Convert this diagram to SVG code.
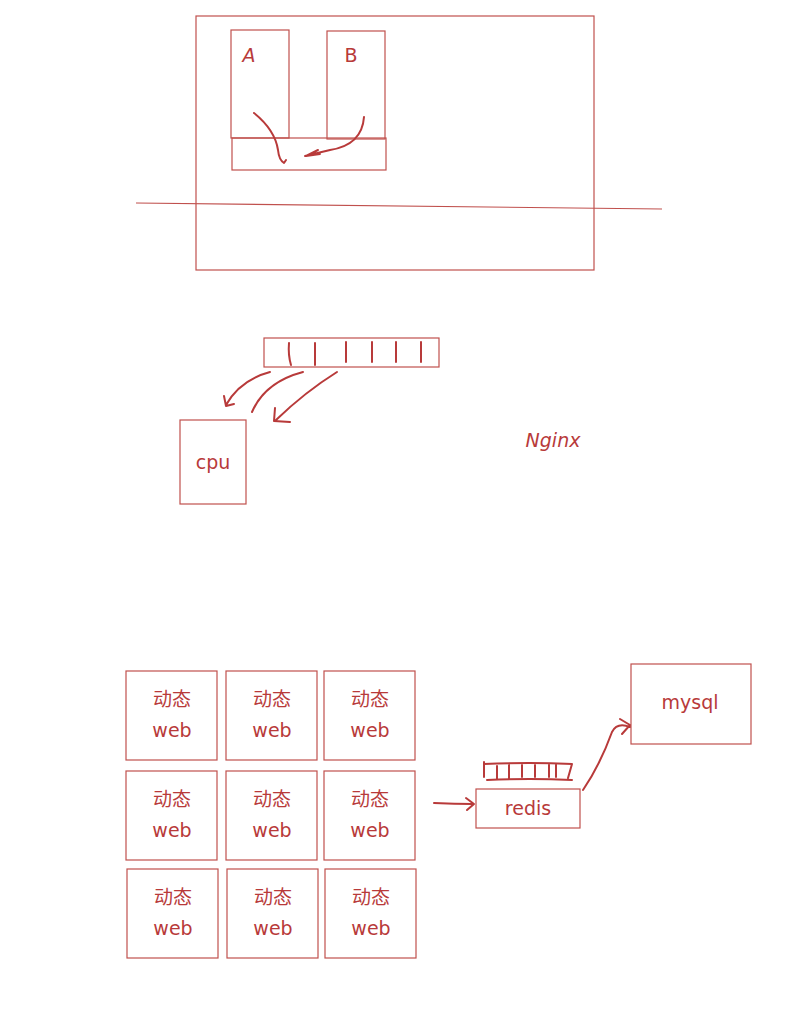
<svg xmlns="http://www.w3.org/2000/svg" width="811" height="1010" viewBox="0 0 811 1010">
<style>
.b{fill:none;stroke:#c0504d;stroke-width:1.2}
.a{fill:none;stroke:#b83a3a;stroke-width:2;stroke-linecap:round;stroke-linejoin:round}
.t{fill:#b83a3a;font-family:"Comic Sans MS","DejaVu Sans","Noto Sans CJK SC",sans-serif;font-size:19px;text-anchor:middle}
</style>
<rect width="811" height="1010" fill="#fff"/>
<g id="outer"><rect class="b" x="196" y="16" width="398" height="254"/></g>
<g id="A"><rect class="b" x="231" y="30" width="58" height="108"/><text class="t" x="249" y="62" font-style="italic">A</text></g>
<g id="B"><rect class="b" x="327" y="31" width="58" height="108"/><text class="t" x="351" y="62">B</text></g>
<g id="base"><rect class="b" x="232" y="138" width="154" height="32"/></g>
<g id="line"><path class="b" d="M136 203 L662 209"/></g>
<g id="queue"><rect class="b" x="264" y="338" width="175" height="29"/>
<path class="a" d="M289 343 Q288 355 291 365 M315 343 V365 M346 342 V362 M372 342 V362 M396 342 V362 M421 342 V362" stroke-width="1.6"/></g>
<g id="cpu"><rect class="b" x="180" y="420" width="66" height="84"/><text class="t" x="213" y="469">cpu</text></g>
<g id="nginx"><text class="t" x="553" y="447" font-size="17" font-style="italic">Nginx</text></g>
<g id="grid">
<g id="w1"><rect class="b" x="126" y="671" width="91" height="89"/><text class="t" x="172" y="706">动态</text><text class="t" x="172" y="737">web</text></g>
<g id="w2"><rect class="b" x="226" y="671" width="91" height="89"/><text class="t" x="272" y="706">动态</text><text class="t" x="272" y="737">web</text></g>
<g id="w3"><rect class="b" x="324" y="671" width="91" height="89"/><text class="t" x="370" y="706">动态</text><text class="t" x="370" y="737">web</text></g>
<g id="w4"><rect class="b" x="126" y="771" width="91" height="89"/><text class="t" x="172" y="806">动态</text><text class="t" x="172" y="837">web</text></g>
<g id="w5"><rect class="b" x="226" y="771" width="91" height="89"/><text class="t" x="272" y="806">动态</text><text class="t" x="272" y="837">web</text></g>
<g id="w6"><rect class="b" x="324" y="771" width="91" height="89"/><text class="t" x="370" y="806">动态</text><text class="t" x="370" y="837">web</text></g>
<g id="w7"><rect class="b" x="127" y="869" width="91" height="89"/><text class="t" x="173" y="904">动态</text><text class="t" x="173" y="935">web</text></g>
<g id="w8"><rect class="b" x="227" y="869" width="91" height="89"/><text class="t" x="273" y="904">动态</text><text class="t" x="273" y="935">web</text></g>
<g id="w9"><rect class="b" x="325" y="869" width="91" height="89"/><text class="t" x="371" y="904">动态</text><text class="t" x="371" y="935">web</text></g>
</g>
<g id="redisq"><path class="a" d="M484 762 V777 M484 764 Q530 762 572 764 L568 778 M487 780 Q530 778 572 780 M497 766 V778 M509 765 V778 M522 765 V777 M535 765 V777 M549 765 V777 M556 764 V777" stroke-width="1.6"/></g>
<g id="redis"><rect class="b" x="476" y="789" width="104" height="39"/><text class="t" x="528" y="815">redis</text></g>
<g id="mysql"><rect class="b" x="631" y="664" width="120" height="80"/><text class="t" x="690" y="709">mysql</text></g>
<g id="connectors">
<path class="a" d="M254 113 Q275 130 278 150 Q279 160 284 163 L286 160"/>
<path class="a" d="M364 117 Q362 145 330 150 L305 156 M318 150 L306 156 L320 154"/>
<path class="a" d="M270 372 Q240 380 226 405 M224 396 L226 406 L234 404"/>
<path class="a" d="M303 372 Q265 382 252 412"/>
<path class="a" d="M337 372 Q305 392 276 420 M275 408 L274 421 L290 422"/>
<path class="a" d="M434 803 Q455 804 473 804 M466 798 L474 804 L467 810"/>
<path class="a" d="M583 790 Q600 765 612 732 Q617 722 630 727 M620 719 L630 725 L622 734"/>
</g>
</svg>
